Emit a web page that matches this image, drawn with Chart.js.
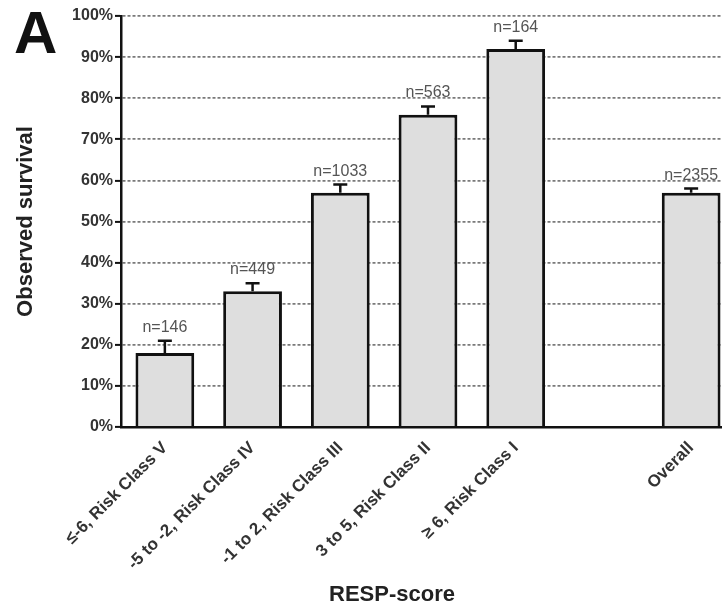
<!DOCTYPE html>
<html>
<head>
<meta charset="utf-8">
<script src="https://cdn.jsdelivr.net/npm/chart.js@4.4.1/dist/chart.umd.min.js"></script>
<style>
  html, body { margin: 0; padding: 0; background: #fff; overflow: hidden; }
  #wrap { width: 722px; height: 611px; overflow: hidden; position: relative; }
  canvas { display: block; }
</style>
</head>
<body>
<div id="wrap"><canvas id="c" width="740" height="611" style="width:740px;height:611px"></canvas></div>
<script>
// RESP-score groups (one empty slot separates the overall bar)
const categories = [
  '\u2264-6, Risk Class V',
  '-5 to -2, Risk Class IV',
  '-1 to 2, Risk Class III',
  '3 to 5, Risk Class II',
  '\u2265 6, Risk Class I',
  '',
  'Overall'
];
// Observed survival (%)
const survival = [18, 33, 57, 76, 92, null, 57];
// Upper end of the error bar (%)
const upperError = [21, 35, 59, 78, 94, null, 58];
// Group sizes
const counts = ['n=146', 'n=449', 'n=1033', 'n=563', 'n=164', '', 'n=2355'];
// Y axis ticks (%)
const yTicks = [0, 10, 20, 30, 40, 50, 60, 70, 80, 90, 100];

const FONT = '"Liberation Sans", Arial, Helvetica, sans-serif';

const errorBarPlugin = {
  id: 'errorBars',
  afterDatasetsDraw(chart) {
    const { ctx } = chart;
    const meta = chart.getDatasetMeta(0);
    const y = chart.scales.y;
    ctx.save();
    meta.data.forEach((bar, i) => {
      if (survival[i] == null) return;
      const x = bar.x;
      const yTop = y.getPixelForValue(survival[i]);
      const yUp = y.getPixelForValue(upperError[i]);
      ctx.strokeStyle = '#111';
      ctx.lineWidth = 2.5;
      ctx.beginPath();
      ctx.moveTo(x, yTop);
      ctx.lineTo(x, yUp);
      ctx.moveTo(x - 7, yUp);
      ctx.lineTo(x + 7, yUp);
      ctx.stroke();
      ctx.fillStyle = '#555';
      ctx.font = '16px ' + FONT;
      ctx.textAlign = 'center';
      ctx.textBaseline = 'alphabetic';
      ctx.fillText(counts[i], x, yUp - 9);
    });
    ctx.restore();
  }
};

const extraTextPlugin = {
  id: 'extraText',
  afterDraw(chart) {
    const { ctx } = chart;
    ctx.save();
    ctx.fillStyle = '#111';
    ctx.font = 'bold 60px ' + FONT;
    ctx.textAlign = 'left';
    ctx.textBaseline = 'alphabetic';
    ctx.fillText('A', 14, 53);
    ctx.fillStyle = '#222';
    ctx.font = 'bold 22px ' + FONT;
    ctx.textAlign = 'center';
    ctx.textBaseline = 'middle';
    ctx.fillText('RESP-score', 392, 595);
    ctx.restore();
  }
};

new Chart(document.getElementById('c'), {
  type: 'bar',
  data: {
    labels: categories,
    datasets: [{
      data: survival,
      backgroundColor: '#dedede',
      borderColor: '#111',
      borderWidth: 3,
      barPercentage: 0.67,
      categoryPercentage: 1.0
    }]
  },
  options: {
    responsive: false,
    animation: false,
    devicePixelRatio: 1,
    layout: { padding: { top: 16, right: 5, left: 0, bottom: 0 } },
    plugins: { legend: { display: false }, tooltip: { enabled: false } },
    scales: {
      x: {
        grid: { display: false, drawTicks: false },
        border: { display: true, color: '#111', width: 2.5 },
        ticks: {
          color: '#333',
          font: { family: FONT, size: 17, weight: 'bold' },
          minRotation: 45,
          maxRotation: 45,
          padding: 11,
          autoSkip: false
        },
        afterFit(scale) { scale.height = 184; }
      },
      y: {
        min: 0,
        max: 100,
        afterBuildTicks(scale) { scale.ticks = yTicks.map(v => ({ value: v })); },
        grid: {
          color: '#7a7a7a',
          lineWidth: 1.8,
          tickColor: '#111',
          tickLength: 6,
          tickWidth: 2
        },
        border: { display: true, color: '#111', width: 2.5, dash: [3, 2] },
        ticks: {
          color: '#333',
          font: { family: FONT, size: 16, weight: 'bold' },
          padding: 2,
          callback: v => v + '%'
        },
        title: {
          display: true,
          text: 'Observed survival',
          color: '#222',
          font: { family: FONT, size: 22, weight: 'bold' },
          padding: { top: 13, bottom: 0 }
        },
        afterFit(scale) { scale.width = 121; }
      }
    }
  },
  plugins: [errorBarPlugin, extraTextPlugin]
});
</script>
</body>
</html>
